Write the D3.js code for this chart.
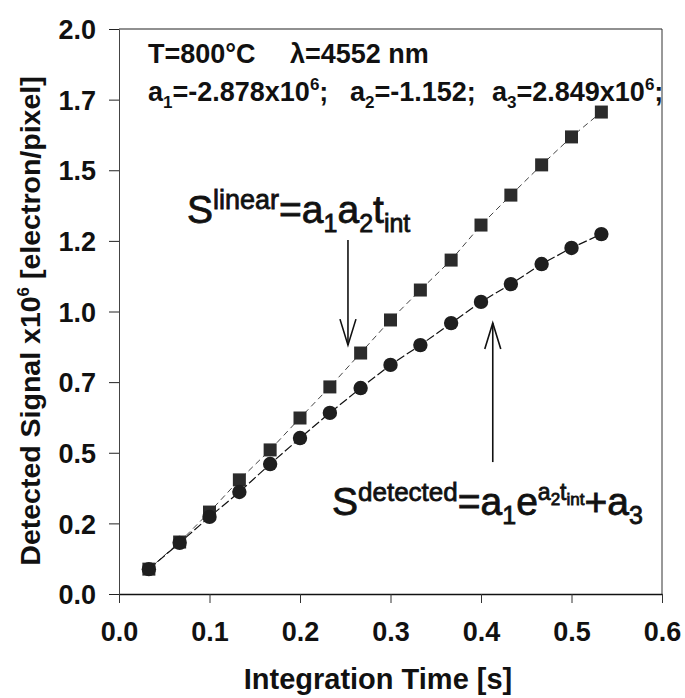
<!DOCTYPE html>
<html>
<head>
<meta charset="utf-8">
<script src="https://cdn.jsdelivr.net/npm/d3@7"></script>
<style>
  html, body { margin: 0; padding: 0; background: #fff; }
  svg { display: block; font-family: "Liberation Sans", Arial, sans-serif; }
</style>
</head>
<body>
<svg id="chart" width="685" height="698"></svg>
<script>
// Integration times [s]
const tInt = [0.033, 0.067, 0.100, 0.133, 0.167, 0.200, 0.233, 0.267,
              0.300, 0.333, 0.367, 0.400, 0.433, 0.467, 0.500, 0.533];
// Linear signal model, x10^6 electron/pixel
const sLinear = [0.088, 0.184, 0.290, 0.404, 0.510, 0.623, 0.733, 0.853,
                 0.970, 1.076, 1.182, 1.306, 1.412, 1.519, 1.618, 1.706];
// Detected signal, x10^6 electron/pixel
const sDetected = [0.088, 0.181, 0.273, 0.361, 0.460, 0.552, 0.641, 0.729,
                   0.811, 0.881, 0.959, 1.034, 1.097, 1.168, 1.225, 1.274];

const xTicks = [0, 0.1, 0.2, 0.3, 0.4, 0.5, 0.6];
const xTickLabels = ["0.0", "0.1", "0.2", "0.3", "0.4", "0.5", "0.6"];
const yTicks = [0, 0.25, 0.5, 0.75, 1.0, 1.25, 1.5, 1.75, 2.0];
const yTickLabels = ["0.0", "0.2", "0.5", "0.7", "1.0", "1.2", "1.5", "1.7", "2.0"];

const W = 685, H = 698;
const margin = { top: 29, right: 23, bottom: 104, left: 119 };

const svg = d3.select("#chart");
const x = d3.scaleLinear().domain([0, 0.6]).range([margin.left, W - margin.right]);
const y = d3.scaleLinear().domain([0, 2.0]).range([H - margin.bottom, margin.top]);

// Frame (top and right edges)
svg.append("line")
  .attr("x1", x(0)).attr("x2", x(0.6)).attr("y1", y(2)).attr("y2", y(2))
  .attr("stroke", "#222").attr("stroke-width", 1.2);
svg.append("line")
  .attr("x1", x(0.6)).attr("x2", x(0.6)).attr("y1", y(2)).attr("y2", y(0))
  .attr("stroke", "#333").attr("stroke-width", 1);

// X axis
const xAxis = svg.append("g")
  .attr("transform", `translate(0,${y(0)})`)
  .call(d3.axisBottom(x).tickValues(xTicks)
    .tickFormat((d, i) => xTickLabels[i])
    .tickSizeInner(9).tickSizeOuter(0).tickPadding(19));
xAxis.select(".domain").attr("stroke", "#111").attr("stroke-width", 1.6);
xAxis.selectAll(".tick line").attr("stroke", "#333");
xAxis.selectAll("text")
  .attr("font-size", 27).attr("font-weight", "bold").attr("fill", "#111")
  .attr("font-family", "'Liberation Sans', Arial, sans-serif");

// Y axis
const yAxis = svg.append("g")
  .attr("transform", `translate(${x(0)},0)`)
  .call(d3.axisLeft(y).tickValues(yTicks)
    .tickFormat((d, i) => yTickLabels[i])
    .tickSizeInner(10).tickSizeOuter(0).tickPadding(13));
yAxis.select(".domain").attr("stroke", "#444").attr("stroke-width", 1);
yAxis.selectAll(".tick line").attr("stroke", "#222");
yAxis.selectAll("text")
  .attr("font-size", 27).attr("font-weight", "bold").attr("fill", "#111")
  .attr("dy", "0.36em")
  .attr("font-family", "'Liberation Sans', Arial, sans-serif");

// Axis titles
svg.append("text")
  .attr("x", 378).attr("y", 689)
  .attr("text-anchor", "middle")
  .attr("font-size", 29).attr("font-weight", "bold").attr("fill", "#111")
  .text("Integration Time [s]");

const yTitle = svg.append("text")
  .attr("transform", `translate(40,321) rotate(-90)`)
  .attr("text-anchor", "middle")
  .attr("font-size", 28.5).attr("font-weight", "bold").attr("fill", "#111");
yTitle.append("tspan").text("Detected Signal x10");
yTitle.append("tspan").attr("font-size", 17).attr("dy", -11).text("6");
yTitle.append("tspan").attr("dy", 11).text(" [electron/pixel]");

// Connecting lines
const linePath = d3.line().x((d, i) => x(tInt[i])).y(d => y(d));
svg.append("path")
  .datum(sLinear)
  .attr("d", linePath)
  .attr("fill", "none").attr("stroke", "#444").attr("stroke-width", 1)
  .attr("stroke-dasharray", "6,4");
svg.append("path")
  .datum(sDetected)
  .attr("d", linePath)
  .attr("fill", "none").attr("stroke", "#111").attr("stroke-width", 1.2)
  .attr("stroke-dasharray", "9,3");

// Markers
const sq = 13;
svg.append("g").selectAll("rect")
  .data(sLinear)
  .join("rect")
  .attr("x", (d, i) => x(tInt[i]) - sq / 2)
  .attr("y", d => y(d) - sq / 2)
  .attr("width", sq).attr("height", sq)
  .attr("fill", "#2b2b2b");
svg.append("g").selectAll("circle")
  .data(sDetected)
  .join("circle")
  .attr("cx", (d, i) => x(tInt[i]))
  .attr("cy", d => y(d))
  .attr("r", 7.2)
  .attr("fill", "#1e1e1e");

// Parameter annotation
const ann = svg.append("g")
  .attr("font-size", 27).attr("font-weight", "bold").attr("fill", "#111");
ann.append("text").attr("x", 148).attr("y", 63).text("T=800\u00B0C");
ann.append("text").attr("x", 290).attr("y", 63).text("\u03BB=4552 nm");

function paramText(xp, name, sub, value, sup, tail) {
  const t = ann.append("text").attr("x", xp).attr("y", 101);
  t.append("tspan").text(name);
  t.append("tspan").attr("font-size", 17).attr("dy", 7).text(sub);
  t.append("tspan").attr("dy", -7).text(value);
  if (sup) t.append("tspan").attr("font-size", 17).attr("dy", -11).text(sup);
  t.append("tspan").attr("dy", sup ? 11 : 0).text(tail);
}
paramText(148, "a", "1", "=-2.878x10", "6", ";");
paramText(350, "a", "2", "=-1.152", null, ";");
paramText(492, "a", "3", "=2.849x10", "6", ";");

// Model formulas
const f1 = svg.append("text")
  .attr("x", 187).attr("y", 223)
  .attr("font-size", 39).attr("fill", "#111")
  .attr("stroke", "#111").attr("stroke-width", 0.8);
f1.append("tspan").text("S");
f1.append("tspan").attr("font-size", 27).attr("dy", -14).text("linear");
f1.append("tspan").attr("dy", 14).text("=a");
f1.append("tspan").attr("font-size", 25).attr("dy", 9).text("1");
f1.append("tspan").attr("dy", -9).text("a");
f1.append("tspan").attr("font-size", 25).attr("dy", 9).text("2");
f1.append("tspan").attr("dy", -9).text("t");
f1.append("tspan").attr("font-size", 25).attr("dy", 9).text("int");

const f2 = svg.append("text")
  .attr("x", 332).attr("y", 515)
  .attr("font-size", 39).attr("fill", "#111")
  .attr("stroke", "#111").attr("stroke-width", 0.8);
f2.append("tspan").text("S");
f2.append("tspan").attr("font-size", 26).attr("dy", -14).text("detected");
f2.append("tspan").attr("dy", 14).text("=a");
f2.append("tspan").attr("font-size", 25).attr("dy", 9).text("1");
f2.append("tspan").attr("dy", -9).text("e");
f2.append("tspan").attr("font-size", 23).attr("dy", -15).text("a");
f2.append("tspan").attr("font-size", 17).attr("dy", 5).text("2");
f2.append("tspan").attr("font-size", 23).attr("dy", -5).text("t");
f2.append("tspan").attr("font-size", 17).attr("dy", 5).text("int");
f2.append("tspan").attr("dy", 10).text("+a");
f2.append("tspan").attr("font-size", 25).attr("dy", 9).text("3");

// Arrows pointing at the two curves (data units)
const arrows = [
  { t: 0.253, from: 1.253, to: 0.881 },
  { t: 0.413, from: 0.467, to: 0.959 }
];
const ag = svg.append("g").attr("stroke", "#111").attr("stroke-width", 1.6).attr("fill", "none");
arrows.forEach(a => {
  const xa = x(a.t), y0 = y(a.from), y1 = y(a.to);
  const dir = y1 > y0 ? -1 : 1;
  ag.append("line").attr("x1", xa).attr("x2", xa).attr("y1", y0).attr("y2", y1);
  ag.append("path")
    .attr("d", `M${xa - 8},${y1 + dir * 26} L${xa},${y1} L${xa + 8},${y1 + dir * 26}`);
});
</script>
</body>
</html>
